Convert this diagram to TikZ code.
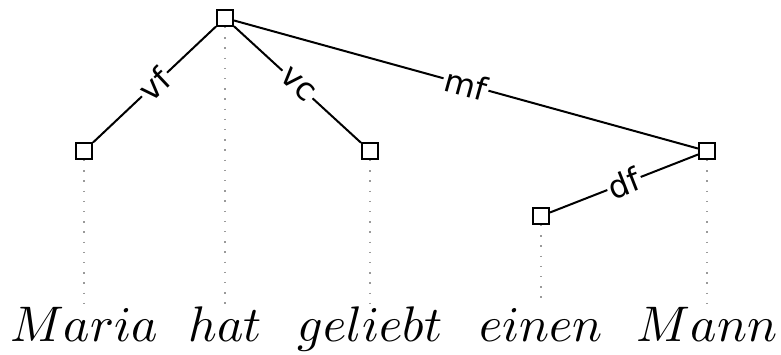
\documentclass[tikz,border=0pt]{standalone}
\usepackage{fontspec}
\usetikzlibrary{positioning}
\newfontfamily\etikettfont{DejaVu Sans}
\definecolor{grau}{HTML}{9A9A9A}
\newcommand\gross[1]{\scalebox{2.5}{$#1$}}

\begin{document}
\begin{tikzpicture}[x=0.5pt,y=-0.5pt,
  knoten/.style={draw,line width=1pt,minimum size=8pt,inner sep=0pt,fill=white},
  kante/.style={line width=1pt},
  marke/.style={sloped,fill=white,inner sep=1pt,font=\etikettfont\fontsize{16}{18}\selectfont},
  lot/.style={color=grau,line width=0.7pt,dash pattern=on 0.7pt off 4.4pt},
  wort/.style={anchor=base,inner sep=0pt,text height=18pt}]
  \useasboundingbox (0,0) rectangle (781,354);
  % Woerter
  \node[wort] (w1) at (84,341) {\gross{Maria}};
  \node[wort] (w2) at (225,341) {\gross{hat}};
  \node[wort] (w3) at (370,341) {\gross{geliebt}};
  \node[wort] (w4) at (541,341) {\gross{einen}};
  \node[wort] (w5) at (707,341) {\gross{Mann}};
  % Knoten
  \node[knoten] (k0) at (225,18) {};
  \node[knoten] (k1) at (84,151) {};
  \node[knoten] (k2) at (370,151) {};
  \node[knoten] (k3) at (707,151) {};
  \node[knoten] (k4) at (541,216) {};
  % Lote
  \draw[lot] (k1) -- (w1);
  \draw[lot] (k0) -- (w2);
  \draw[lot] (k2) -- (w3);
  \draw[lot] (k4) -- (w4);
  \draw[lot] (k3) -- (w5);
  % Kanten
  \draw[kante] (k0) -- node[marke] {vf} (k1);
  \draw[kante] (k0) -- node[marke] {vc} (k2);
  \draw[kante] (k0) -- node[marke] {mf} (k3);
  \draw[kante] (k3) -- node[marke] {df} (k4);
\end{tikzpicture}
\end{document}
